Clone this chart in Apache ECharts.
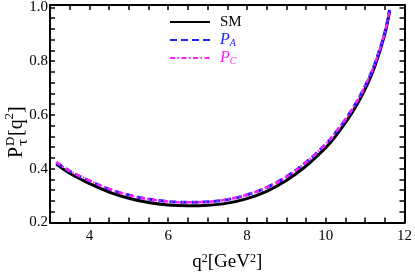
<!DOCTYPE html>
<html>
<head>
<meta charset="utf-8">
<script src="https://cdn.jsdelivr.net/npm/echarts@6/dist/echarts.min.js"></script>
<style>html,body{margin:0;padding:0;background:#fff}#c{width:415px;height:277px}</style>
</head>
<body>
<div id="c"></div>
<script>
// data
var q2 = [3.16, 3.5, 4.0, 4.5, 5.0, 5.5, 6.0, 6.5, 7.0, 7.5, 8.0, 8.5, 9.0, 9.5, 10.0, 10.25, 10.5, 10.75, 11.0, 11.25, 11.5, 11.62];
var smVals = [0.417, 0.383, 0.345, 0.313, 0.290, 0.274, 0.265, 0.262, 0.264, 0.272, 0.289, 0.316, 0.356, 0.410, 0.478, 0.521, 0.571, 0.628, 0.696, 0.782, 0.900, 0.986];
var paVals = [0.423, 0.391, 0.355, 0.324, 0.302, 0.287, 0.278, 0.275, 0.277, 0.285, 0.303, 0.330, 0.370, 0.424, 0.491, 0.534, 0.583, 0.640, 0.707, 0.792, 0.907, 0.990];
var pcVals = [0.424, 0.391, 0.356, 0.325, 0.302, 0.287, 0.278, 0.275, 0.277, 0.286, 0.303, 0.331, 0.370, 0.424, 0.491, 0.535, 0.584, 0.640, 0.708, 0.793, 0.907, 0.991];
var xTickLabels = [4, 6, 8, 10, 12];
var yTickLabels = [0.2, 0.4, 0.6, 0.8, 1.0];

function pairs(v) { return q2.map(function (x, i) { return [x, v[i]]; }); }
var FONT = 'Liberation Serif';
function near(list, v) { for (var i = 0; i < list.length; i++) if (Math.abs(list[i] - v) < 1e-6) return true; return false; }

var chart = echarts.init(document.getElementById('c'), null, {renderer: 'canvas'});
var axLine = {show: true, lineStyle: {color: '#000', width: 2}};
var axTick = {show: true, inside: true, length: 5, lineStyle: {color: '#000', width: 1.5}};
var BLUE = '#1e1eff', MAG = '#ff1eff';
chart.setOption({
  animation: false,
  backgroundColor: '#fff',
  grid: {left: 50, right: 9, top: 4, bottom: 39, containLabel: false},
  legend: {
    orient: 'vertical', left: 169, top: 14, padding: 0, itemWidth: 40, itemHeight: 12, itemGap: 2,
    itemStyle: {opacity: 0},
    data: ['SM', 'PA', 'PC'],
    textStyle: {fontFamily: FONT, fontSize: 15, color: '#000', lineHeight: 16, padding: [0, 0, 0, 5],
      rich: {
        sm: {fontFamily: FONT, fontSize: 15, color: '#000', lineHeight: 16},
        pa: {fontFamily: FONT, fontSize: 16, fontStyle: 'italic', color: BLUE, lineHeight: 16},
        paS: {fontFamily: FONT, fontSize: 10, fontStyle: 'italic', color: BLUE, lineHeight: 4, verticalAlign: 'bottom'},
        pc: {fontFamily: FONT, fontSize: 16, fontStyle: 'italic', color: MAG, lineHeight: 16},
        pcS: {fontFamily: FONT, fontSize: 10, fontStyle: 'italic', color: MAG, lineHeight: 4, verticalAlign: 'bottom'}
      }
    },
    formatter: function (n) {
      if (n === 'SM') return '{sm|SM}';
      if (n === 'PA') return '{pa|P}{paS|A}';
      return '{pc|P}{pcS|C}';
    }
  },
  xAxis: [{
    type: 'value', min: 3, max: 12, interval: 0.5, position: 'bottom',
    axisLine: axLine, axisTick: axTick, splitLine: {show: false},
    axisLabel: {fontFamily: FONT, fontSize: 15, color: '#000', margin: 6,
      formatter: function (v) { return near(xTickLabels, v) ? String(Math.round(v)) : ''; }},
    name: '{n|q}{s|2}{n|[GeV}{s|2}{n|]}', nameLocation: 'middle', nameGap: 30,
    nameTextStyle: {fontFamily: FONT, fontSize: 19, color: '#000',
      rich: {n: {fontFamily: FONT, fontSize: 19, color: '#000', lineHeight: 20},
             s: {fontFamily: FONT, fontSize: 12, color: '#000', lineHeight: 6, verticalAlign: 'top'}}}
  }, {
    type: 'value', min: 3, max: 12, interval: 0.5, position: 'top',
    axisLine: axLine, axisTick: axTick, splitLine: {show: false}, axisLabel: {show: false}
  }],
  yAxis: [{
    type: 'value', min: 0.2, max: 1.009, interval: 0.04, position: 'left',
    axisLine: axLine, axisTick: axTick, splitLine: {show: false},
    axisLabel: {fontFamily: FONT, fontSize: 15, color: '#000', margin: 2,
      formatter: function (v) { return near(yTickLabels, v) ? v.toFixed(1) : ''; }}
  }, {
    type: 'value', min: 0.2, max: 1.009, interval: 0.04, position: 'right',
    axisLine: axLine, axisTick: axTick, splitLine: {show: false}, axisLabel: {show: false}
  }],
  graphic: [{
    type: 'group', x: 17, y: 127, rotation: Math.PI / 2,
    children: [
      {type: 'text', x: -31, y: 0, style: {text: 'P', font: '20px "Liberation Serif"', fill: '#000', textVerticalAlign: 'middle', textAlign: 'left'}},
      {type: 'text', x: -19, y: -6.5, style: {text: 'D', font: '13px "Liberation Serif"', fill: '#000', textVerticalAlign: 'middle', textAlign: 'left'}},
      {type: 'text', x: -19, y: 6.5, style: {text: 'τ', font: '13px "DejaVu Serif"', fill: '#000', textVerticalAlign: 'middle', textAlign: 'left'}},
      {type: 'text', x: -9, y: 0, style: {text: '[q', font: '20px "Liberation Serif"', fill: '#000', textVerticalAlign: 'middle', textAlign: 'left'}},
      {type: 'text', x: 7.5, y: -7, style: {text: '2', font: '13px "Liberation Serif"', fill: '#000', textVerticalAlign: 'middle', textAlign: 'left'}},
      {type: 'text', x: 14, y: 0, style: {text: ']', font: '20px "Liberation Serif"', fill: '#000', textVerticalAlign: 'middle', textAlign: 'left'}}
    ]
  }],
  series: [
    {name: 'SM', type: 'line', data: pairs(smVals), smooth: 0.4, symbol: 'none',
     lineStyle: {color: '#000', width: 3, type: 'solid'}, itemStyle: {color: '#000'}, z: 2},
    {name: 'PA', type: 'line', data: pairs(paVals), smooth: 0.4, symbol: 'none',
     lineStyle: {color: BLUE, width: 3, type: [7, 4]}, itemStyle: {color: BLUE}, z: 3},
    {name: 'PC', type: 'line', data: pairs(pcVals), smooth: 0.4, symbol: 'none',
     lineStyle: {color: MAG, width: 2.5, type: [5, 2.5, 1.5, 2.5]}, itemStyle: {color: MAG}, z: 4}
  ]
});
</script>
</body>
</html>
